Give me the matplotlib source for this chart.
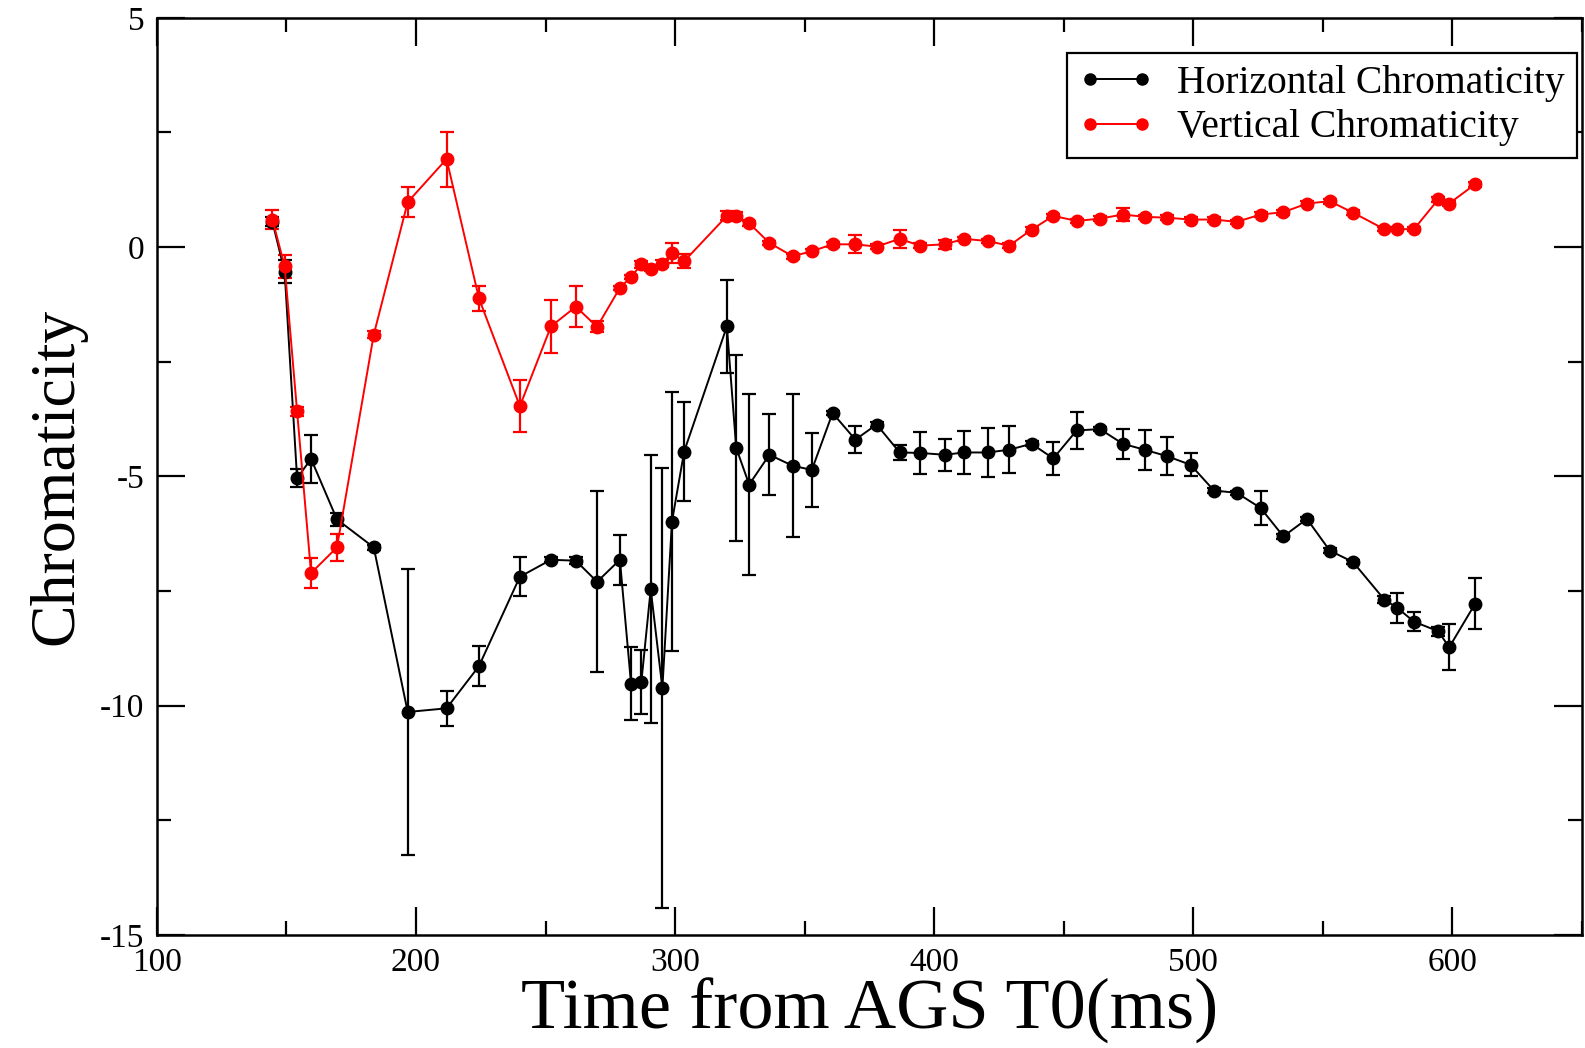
import numpy as np
import matplotlib
matplotlib.use('Agg')
import matplotlib.pyplot as plt
from matplotlib.ticker import MultipleLocator
from matplotlib.lines import Line2D

plt.rcParams['font.family'] = ['Liberation Serif', 'DejaVu Serif']
plt.rcParams['axes.unicode_minus'] = False

# time from AGS T0 (ms), shared by both series
t = [144.6, 149.3, 154.1, 159.5, 169.5, 183.7, 196.8, 211.8, 224.3, 240.1,
     252.1, 261.7, 269.9, 278.7, 283.0, 287.0, 290.6, 295.1, 298.8, 303.5,
     320.0, 323.6, 328.6, 336.4, 345.4, 352.8, 360.8, 369.6, 377.8, 386.7,
     394.5, 404.0, 411.7, 420.7, 429.0, 437.6, 446.0, 455.0, 464.0, 472.8,
     481.2, 489.9, 499.0, 508.0, 516.8, 526.0, 534.8, 543.9, 552.7, 561.7,
     573.8, 578.8, 585.2, 594.6, 598.8, 608.8]

horiz = [0.55, -0.54, -5.04, -4.62, -5.94, -6.55, -10.14, -10.06, -9.14, -7.19,
         -6.82, -6.84, -7.30, -6.82, -9.52, -9.48, -7.46, -9.62, -5.99, -4.46,
         -1.73, -4.38, -5.18, -4.53, -4.77, -4.86, -3.62, -4.20, -3.87, -4.48,
         -4.49, -4.53, -4.48, -4.48, -4.42, -4.29, -4.61, -4.00, -3.97, -4.29,
         -4.42, -4.56, -4.75, -5.31, -5.36, -5.69, -6.31, -5.93, -6.62, -6.87,
         -7.69, -7.87, -8.17, -8.38, -8.73, -7.78]
horiz_err = [0.10, 0.25, 0.20, 0.53, 0.15, 0.05, 3.12, 0.38, 0.44, 0.42,
             0.05, 0.08, 1.97, 0.55, 0.80, 0.70, 2.93, 4.80, 2.82, 1.07,
             1.02, 2.03, 1.98, 0.88, 1.56, 0.80, 0.05, 0.30, 0.05, 0.17,
             0.46, 0.35, 0.46, 0.53, 0.51, 0.05, 0.36, 0.41, 0.05, 0.33,
             0.44, 0.42, 0.25, 0.05, 0.05, 0.38, 0.05, 0.05, 0.05, 0.05,
             0.08, 0.32, 0.20, 0.10, 0.50, 0.56]

vert = [0.60, -0.42, -3.58, -7.11, -6.55, -1.91, 0.98, 1.92, -1.12, -3.47,
        -1.73, -1.30, -1.74, -0.89, -0.65, -0.38, -0.47, -0.36, -0.13, -0.31,
        0.68, 0.68, 0.52, 0.09, -0.20, -0.09, 0.06, 0.06, 0.01, 0.18,
        0.03, 0.06, 0.18, 0.13, 0.03, 0.38, 0.68, 0.57, 0.62, 0.71,
        0.66, 0.64, 0.60, 0.60, 0.55, 0.71, 0.76, 0.95, 1.00, 0.75,
        0.39, 0.39, 0.39, 1.04, 0.95, 1.37]
vert_err = [0.20, 0.25, 0.10, 0.33, 0.30, 0.08, 0.33, 0.60, 0.28, 0.57,
            0.58, 0.44, 0.12, 0.05, 0.05, 0.08, 0.05, 0.08, 0.22, 0.15,
            0.10, 0.08, 0.05, 0.05, 0.05, 0.05, 0.05, 0.20, 0.05, 0.20,
            0.05, 0.10, 0.05, 0.05, 0.05, 0.05, 0.05, 0.05, 0.05, 0.15,
            0.05, 0.05, 0.05, 0.05, 0.05, 0.05, 0.05, 0.05, 0.05, 0.05,
            0.05, 0.05, 0.05, 0.05, 0.05, 0.05]

fig = plt.figure(figsize=(15.85, 10.48), dpi=100)
ax = fig.add_axes([0.099, 0.108, 0.899, 0.875])

style = dict(marker='o', markersize=9, linewidth=1.4, elinewidth=1.6,
             capsize=5, capthick=1.6)
ax.errorbar(t, horiz, yerr=horiz_err, color='black', **style)
ax.errorbar(t, vert, yerr=vert_err, color='red', **style)

ax.set_xlim(100, 650)
ax.set_ylim(-15, 5)
ax.set_xticks([100, 200, 300, 400, 500, 600])
ax.xaxis.set_minor_locator(MultipleLocator(50))
ax.yaxis.set_major_locator(MultipleLocator(5))
ax.yaxis.set_minor_locator(MultipleLocator(2.5))
ax.tick_params(which='both', direction='in', top=True, right=True, width=1.6)
ax.tick_params(which='major', length=20, labelsize=24, pad=9)
ax.tick_params(which='minor', length=10)
for s in ax.spines.values():
    s.set_linewidth(1.8)

ax.set_xlabel('Time from AGS T0(ms)', fontsize=52, labelpad=0)
ax.set_ylabel('Chromaticity', fontsize=46, labelpad=10)

handles = [Line2D([], [], color='black', marker='o', markersize=8, linewidth=1.4),
           Line2D([], [], color='red', marker='o', markersize=8, linewidth=1.4)]
leg = ax.legend(handles, ['Horizontal Chromaticity', 'Vertical Chromaticity'],
                loc='upper right', bbox_to_anchor=(0.9965, 0.962), borderaxespad=0,
                fontsize=28.5, numpoints=2, fancybox=False, framealpha=1,
                edgecolor='black', handlelength=1.9, borderpad=0.3,
                labelspacing=0.2, handletextpad=0.6)
leg.get_frame().set_linewidth(1.6)

plt.savefig('out.png', dpi=100)
